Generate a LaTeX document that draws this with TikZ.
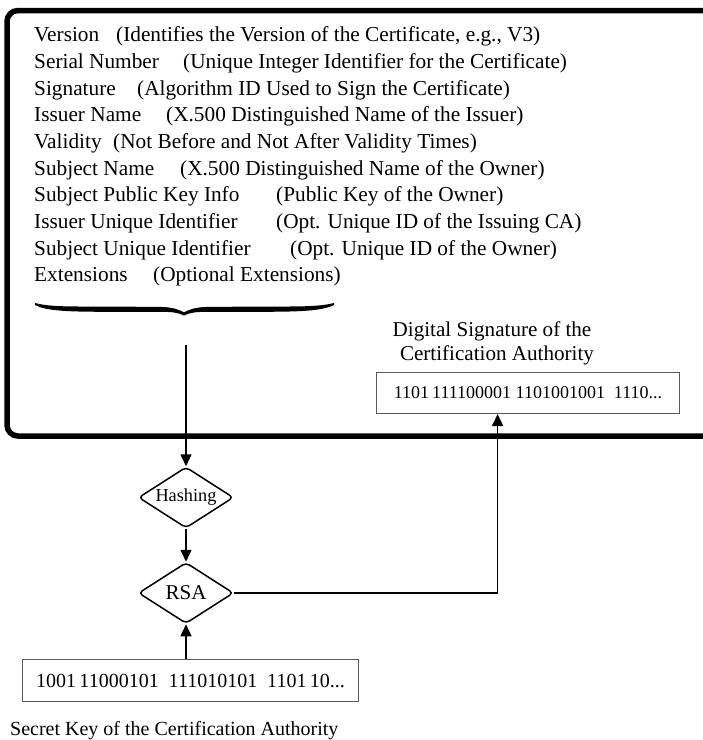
\documentclass[tikz,border=0pt]{standalone}
\usepackage{fontspec}
\setmainfont{Liberation Serif}
\usetikzlibrary{shapes.geometric,arrows.meta,calc}
\begin{document}
\begin{tikzpicture}[x=1pt,y=-1pt,
  txt/.style={anchor=base west,inner sep=0,font=\fontsize{21.3}{24}\selectfont},
  ctxt/.style={anchor=base,inner sep=0,font=\fontsize{21.1}{24}\selectfont},
  bitbox/.style={draw=black!65,line width=1pt,anchor=north west,inner sep=0},
  dia/.style={diamond,draw,line width=1.5pt,rounded corners=4pt,shape aspect=1.56,minimum width=95pt,minimum height=61pt,inner sep=0},
  arr/.style={line width=1.5pt,-{Triangle[length=12pt,width=11pt]}}
]
\useasboundingbox (0,0) rectangle (703,740);
\clip (0,0) rectangle (703,740);
% certificate frame (open on the right, cut by the page)
\draw[line width=5.5pt,rounded corners=11pt] (720,10.5) -- (7,10.5) -- (7,436) -- (720,436);
% fields
\node[txt] (l1)  at (34,41.7)  {Version};
\node[txt] (d1)  at (116,41.7) {(Identifies the Version of the Certificate, e.g., V3)};
\node[txt] (l2)  at (34,68.4)  {Serial Number};
\node[txt] (d2)  at (183,68.4) {(Unique Integer Identifier for the Certificate)};
\node[txt] (l3)  at (34,95.0)  {Signature};
\node[txt] (d3)  at (137,95.0) {(Algorithm ID Used to Sign the Certificate)};
\node[txt] (l4)  at (34,121.7) {Issuer Name};
\node[txt] (d4)  at (166,121.7) {(X.500 Distinguished Name of the Issuer)};
\node[txt] (l5)  at (34,148.4) {Validity};
\node[txt] (d5)  at (113,148.4) {(Not Before and Not After Validity Times)};
\node[txt] (l6)  at (34,175.1) {Subject Name};
\node[txt] (d6)  at (180,175.1) {(X.500 Distinguished Name of the Owner)};
\node[txt] (l7)  at (34,201.7) {Subject Public Key Info};
\node[txt] (d7)  at (276,201.7) {(Public Key of the Owner)};
\node[txt] (l8)  at (34,228.4) {Issuer Unique Identifier};
\node[txt] (d8)  at (276,228.4) {(Opt. Unique ID of the Issuing CA)};
\node[txt] (l9)  at (34,255.1) {Subject Unique Identifier};
\node[txt] (d9)  at (290,255.1) {(Opt. Unique ID of the Owner)};
\node[txt] (l10) at (34,281.7) {Extensions};
\node[txt] (d10) at (153,281.7) {(Optional Extensions)};
% calligraphic brace
\fill (35,303) .. controls (50,307) and (70,306.5) .. (110,306.5)
  -- (163,307) .. controls (173,307.5) and (179,309.5) .. (184,312.5)
  .. controls (189,309.5) and (195,307.5) .. (205,307)
  -- (258,306.5) .. controls (298,306.5) and (318,307) .. (334,303)
  -- (334,305) .. controls (322,311) and (300,311.8) .. (258,311.8)
  -- (208,311.8) .. controls (196,311.8) and (190,312.5) .. (184,315.5)
  .. controls (178,312.5) and (172,311.8) .. (160,311.8)
  -- (110,311.8) .. controls (68,311.8) and (46,311) .. (35,305) -- cycle;
\coordinate (bt) at (186,345);
% digital signature
\node[ctxt] (sigl1) at (492,336.7) {Digital Signature of the};
\node[ctxt] (sigl2) at (497,360.7) {Certification Authority};
\node[bitbox,minimum width=303pt,minimum height=41pt,font=\fontsize{18}{20}\selectfont] (sig) at (376,372) {1101\,111100001 1101001001\ \ 1110...\hspace{10pt}};
% diamonds
\node[dia,font=\fontsize{18.3}{20}\selectfont] (hash) at (186,497.5) {Hashing};
\node[dia,font=\fontsize{21}{24}\selectfont] (rsa) at (186,593) {RSA};
% secret key
\node[bitbox,minimum width=336pt,minimum height=42pt,font=\fontsize{20}{24}\selectfont] (key) at (22,659) {1001\,11000101\ \ 111010101\ \ 1101\,10...};
\node[anchor=base west,inner sep=0,font=\fontsize{20}{24}\selectfont] (keylbl) at (10,735) {Secret Key of the Certification Authority};
% connectors
\draw[arr] (bt) -- (hash.north);
\draw[arr] (hash.south) -- (rsa.north);
\draw[arr] (key.north -| rsa.south) -- (rsa.south);
\draw[arr] (rsa.east) -| ($(sig.south west)!0.4!(sig.south east)$);
\end{tikzpicture}
\end{document}
